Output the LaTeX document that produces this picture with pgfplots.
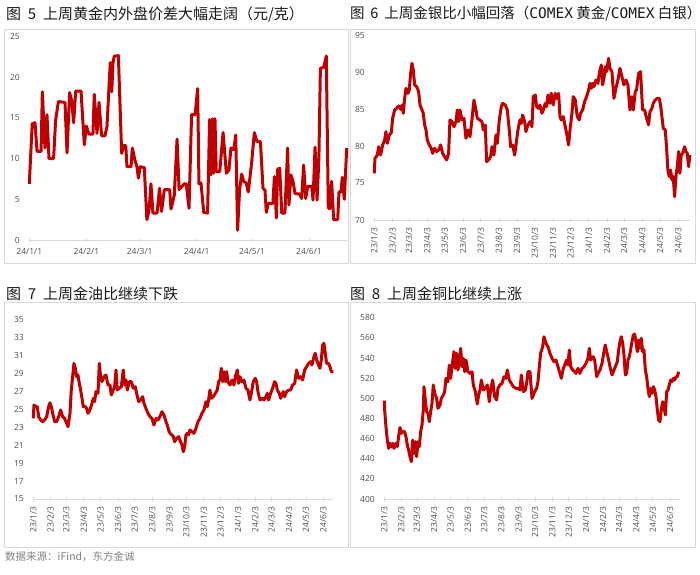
\documentclass[border=0pt]{standalone}
\usepackage{fontspec}
\setmainfont{Noto Sans CJK SC}
\newfontfamily\tickfont{Open Sans}
\newfontfamily\monofont{DejaVu Sans Mono}
\usepackage{pgfplots}
\pgfplotsset{compat=1.18}

\definecolor{linered}{RGB}{192,0,0}
\definecolor{framegray}{RGB}{217,217,217}
\definecolor{ticktext}{RGB}{80,80,80}
\definecolor{srcgray}{RGB}{128,128,128}
\definecolor{titletext}{RGB}{25,25,25}

\pgfplotsset{
  panel/.style={
    scale only axis,
    anchor=south west,
    axis x line*=bottom,
    axis y line*=left,
    x axis line style={-,draw=framegray,line width=1pt},
    y axis line style={draw=none},
    xtick style={draw=framegray,line width=0.8pt},
    major tick length=4pt,
    tick align=center,
    ytick style={draw=none},
    ticklabel style={font=\tickfont\fontsize{8.5}{10}\selectfont,text=ticktext},
    yticklabel style={xshift=-4pt},
    /pgf/number format/assume math mode=true,
    clip=false,
  },
  monthly/.style={
    xtick={0,31,59,90,120,151,181,212,243,273,304,334,365,396,425,456,486,517},
    xticklabels={23/1/3,23/2/3,23/3/3,23/4/3,23/5/3,23/6/3,23/7/3,23/8/3,23/9/3,23/10/3,23/11/3,23/12/3,24/1/3,24/2/3,24/3/3,24/4/3,24/5/3,24/6/3},
    xticklabel style={rotate=90,anchor=east,xshift=-2pt},
  },
  redline/.style={linered,line width=3pt,line join=round,mark=none},
}

\begin{document}
\begin{tikzpicture}[x=1pt,y=1pt]
\path[use as bounding box] (0,0) rectangle (700,574);

% panel frames
\draw[framegray,line width=1pt] (4,544) rectangle (348,311);
\draw[framegray,line width=1pt] (350,544) rectangle (695,311);
\draw[framegray,line width=1pt] (4,271.3) rectangle (348,26.7);
\draw[framegray,line width=1pt] (350,271.3) rectangle (695,26.7);

% titles
\begin{scope}[every node/.style={anchor=west,inner sep=0pt,text=titletext,font=\fontsize{15}{17}\selectfont}]
\node at (6,560) {图\hspace{0.45em}5\hspace{0.45em}上周黄金内外盘价差大幅走阔（元/克）};
\node[font=\fontsize{14.5}{16}\selectfont] at (350,560) {图\hspace{0.4em}6\hspace{0.4em}上周金银比小幅回落（{\monofont COMEX} 黄金/{\monofont COMEX} 白银）};
\node at (6,280) {图\hspace{0.45em}7\hspace{0.45em}上周金油比继续下跌};
\node at (350,280) {图\hspace{0.45em}8\hspace{0.45em}上周金铜比继续上涨};
\end{scope}
\node[anchor=west,inner sep=0pt,text=srcgray,font=\fontsize{10.5}{12}\selectfont] at (5,17.3) {数据来源：iFind，东方金诚};

% ---- 图5: 内外盘价差 (元/克)
\begin{axis}[panel,
  at={(29.3pt,334pt)}, width=317.4pt, height=203.5pt,
  xmin=0, xmax=172.5, ymin=0, ymax=25,
  ytick={0,5,10,15,20,25},
  xtick={0,31,60,91,121,152},
  xticklabels={24/1/1,24/2/1,24/3/1,24/4/1,24/5/1,24/6/1},
  xticklabel style={yshift=-3pt},
]
\addplot[redline] coordinates {
(0,6.9) (1.6,14.3) (3.1,14.4) (4.2,10.9) (6.4,10.9) (7.1,18.2) (8.5,11.3) (9.6,15.4) (10.7,10.0) (13.2,10.0)
(14.3,14.7) (15.8,17.0) (19.4,16.9) (20.5,10.7) (21.9,18.1) (23.0,17.2) (24.1,14.4) (25.2,18.3) (28.1,18.3) (29.9,11.7)
(31.0,14.0) (32.4,13.0) (34.6,13.0) (35.3,17.9) (36.8,13.1) (37.9,16.9) (39.3,12.8) (41.1,12.8) (42.2,13.9) (44.0,21.8)
(44.8,18.2) (45.5,21.8) (46.2,22.6) (48.4,22.65) (50.2,10.65) (51.3,11.6) (52.4,11.6) (53.1,9.0) (55.3,9.0) (56.0,11.3)
(57.4,9.8) (58.5,9.0) (59.3,7.6) (60.3,9.0) (62.5,8.9) (63.9,2.5) (65.1,3.7) (66.1,6.9) (67.2,3.3) (69.4,3.3)
(70.8,6.35) (71.9,3.5) (73.4,6.2) (76.3,6.2) (77.0,3.8) (78.8,5.5) (80.3,12.4) (81.4,6.2) (84.3,6.9) (85.3,6.9)
(86.8,3.9) (88.2,15.4) (90.1,15.4) (91.5,18.6) (92.2,6.9) (93.3,7.0) (94.8,3.4) (96.9,3.3) (98.0,14.8) (98.7,8.0)
(99.5,14.9) (100.2,8.2) (100.9,14.9) (101.6,8.4) (103.5,8.4) (105.3,13.2) (107.1,8.2) (108.5,8.6) (109.6,11.3) (111.1,11.1)
(112.2,12.9) (113.2,1.2) (114.3,6.2) (115.4,8.1) (116.5,7.2) (117.9,7.0) (119.0,5.9) (120.8,9.4) (122.3,13.2) (123.7,12.1)
(125.6,12.1) (127.0,6.35) (128.1,6.1) (128.8,3.4) (129.9,4.5) (132.4,4.5) (133.2,7.8) (134.3,2.7) (135.0,8.7) (136.1,8.8)
(137.2,3.3) (138.9,3.3) (140.4,11.3) (141.1,4.3) (142.2,8.0) (143.3,7.2) (144.4,5.7) (146.9,5.65) (148.0,5.1) (149.1,9.2)
(150.2,5.1) (151.3,6.6) (153.5,6.6) (154.2,4.9) (155.3,11.4) (156.4,4.9) (157.4,10.2) (158.2,21.1) (160.0,21.2) (161.4,22.6)
(162.5,3.9) (163.6,3.9) (164.3,7.2) (165.4,2.5) (167.6,2.5) (168.3,5.9) (169.4,5.9) (170.1,7.7) (171.2,5.0) (172.5,11.3)
};
\end{axis}

% ---- 图6: 金银比
\begin{axis}[panel, monthly,
  at={(374.3pt,354pt)}, width=315.7pt, height=185pt,
  xmin=0, xmax=537, ymin=70, ymax=95,
  ytick={70,75,80,85,90,95},
]
\addplot[redline] coordinates {
(0,76.31) (1.1,78.33) (5.1,78.78) (7.4,79.91) (10.8,78.78) (14.2,80.14) (17.6,80.81) (19.8,81.94) (22.1,80.36) (25.5,81.49)
(28.9,81.80) (31.2,83.74) (34.6,84.87) (38.0,85.09) (41.4,85.41) (44.8,84.96) (47.1,85.54) (49.3,84.42) (51.6,86.44) (53.9,87.79)
(57.3,87.12) (59.5,87.57) (61.8,89.82) (64.1,91.17) (66.3,90.27) (68.6,88.25) (72.0,88.02) (75.4,87.34) (77.7,85.54) (81.1,84.87)
(83.3,84.42) (85.6,82.84) (87.9,82.16) (90.1,80.81) (93.5,80.14) (96.9,79.69) (99.2,79.01) (102.6,79.69) (106.0,79.24) (109.4,79.46)
(112.8,80.14) (116.2,79.01) (119.6,78.56) (123.0,78.11) (126.4,79.01) (128.7,83.52) (132.1,83.29) (135.5,82.61) (138.9,83.29) (141.2,84.87)
(143.4,83.29) (145.7,84.87) (149.1,83.52) (152.5,83.74) (155.9,81.04) (159.3,82.16) (162.7,81.26) (166.1,83.52) (169.5,86.22) (172.9,84.87)
(175.2,83.74) (179.7,83.52) (183.1,83.29) (185.4,82.16) (188.8,82.84) (191.0,77.88) (194.4,78.11) (197.8,78.56) (200.1,79.91) (203.5,78.78)
(206.9,81.49) (209.2,80.36) (212.6,83.52) (216.0,85.32) (218.3,85.77) (222.8,85.54) (226.2,84.87) (229.6,82.16) (231.9,79.91) (235.3,80.14)
(238.7,78.78) (242.1,80.81) (244.3,82.16) (247.7,83.52) (250.0,83.06) (252.3,84.19) (255.7,83.29) (257.9,81.94) (261.3,82.84) (264.7,83.29)
(268.1,82.61) (270.4,86.67) (273.8,86.89) (276.1,85.32) (279.5,85.09) (281.7,85.54) (285.1,84.42) (287.4,84.87) (290.8,85.77) (293.1,85.32)
(295.4,86.89) (298.8,85.77) (301.0,87.12) (304.4,85.54) (307.8,87.12) (310.1,86.44) (313.5,87.12) (315.8,83.97) (318.0,83.52) (321.4,83.97)
(324.8,82.61) (327.1,81.71) (330.5,80.14) (332.8,82.16) (336.2,84.42) (338.4,86.67) (341.8,86.22) (345.2,83.97) (348.6,83.52) (350.9,84.42)
(354.3,84.87) (357.7,85.99) (361.1,86.67) (364.5,87.57) (366.8,88.47) (369.0,87.79) (371.3,88.47) (373.6,88.02) (377.0,88.92) (380.4,88.47)
(382.7,89.82) (386.1,90.95) (388.3,88.25) (390.6,89.15) (392.9,90.72) (395.1,90.05) (398.5,91.85) (400.8,90.50) (404.2,90.05) (407.6,86.44)
(411.0,87.79) (414.4,88.92) (417.8,90.50) (421.2,89.37) (424.6,88.25) (428.0,88.92) (431.4,88.25) (434.8,84.87) (438.2,86.67) (440.5,84.87)
(443.9,87.34) (446.1,87.57) (449.5,89.82) (452.9,90.05) (456.3,84.87) (459.8,84.87) (463.2,83.74) (466.6,82.84) (468.8,84.64) (472.2,85.09)
(474.5,85.77) (477.9,86.22) (481.3,86.44) (484.7,86.44) (486.9,85.54) (489.2,83.97) (491.5,82.39) (494.9,82.16) (497.2,79.69) (499.4,76.76)
(501.7,75.86) (504.0,76.76) (506.2,75.41) (508.5,75.86) (510.8,73.15) (513.0,75.86) (515.3,77.21) (517.6,79.24) (519.8,76.31) (522.1,78.78)
(524.4,79.01) (527.8,79.91) (530.0,79.24) (532.3,79.01) (534.6,77.21) (536.8,78.78)
};
\end{axis}

% ---- 图7: 金油比
\begin{axis}[panel, monthly,
  at={(33.3pt,75pt)}, width=300.1pt, height=180pt,
  xmin=0, xmax=535, ymin=15, ymax=35,
  ytick={15,17,19,21,23,25,27,29,31,33,35},
]
\addplot[redline] coordinates {
(0,23.96) (1.2,25.44) (4.8,25.26) (7.1,25.26) (9.5,24.15) (13.1,23.78) (16.6,23.59) (20.2,23.78) (23.8,24.15) (27.3,25.26)
(29.7,25.70) (32.1,25.26) (34.5,24.52) (38.0,23.59) (41.6,23.59) (45.2,24.15) (48.7,24.89) (52.3,24.15) (55.9,23.96) (59.4,23.41)
(61.8,23.04) (65.4,24.52) (67.7,27.11) (70.1,28.59) (72.5,30.07) (74.9,29.52) (77.2,28.59) (79.6,28.78) (82.0,27.85) (84.4,27.11)
(86.8,26.19) (89.1,25.26) (91.5,25.33) (95.1,25.07) (97.4,24.52) (101.0,24.89) (104.6,25.63) (107.0,26.19) (109.3,25.81) (111.7,26.93)
(115.3,26.74) (117.7,30.07) (120.0,28.59) (122.4,28.04) (126.0,28.59) (129.5,28.78) (133.1,27.67) (136.7,27.67) (139.0,26.56) (141.4,26.93)
(145.0,27.48) (147.4,29.33) (149.7,27.11) (153.3,27.30) (156.9,27.48) (160.4,29.33) (162.8,27.67) (165.2,28.22) (167.6,27.11) (171.1,28.04)
(174.7,28.04) (178.3,27.30) (181.8,27.48) (184.2,26.74) (187.8,25.81) (191.3,26.00) (194.9,26.37) (197.3,25.63) (200.8,25.07) (204.4,24.52)
(208.0,24.15) (211.5,23.96) (215.1,23.22) (218.7,23.96) (222.2,23.78) (225.8,24.15) (229.4,24.70) (232.9,24.33) (236.5,23.59) (238.9,23.22)
(241.2,22.67) (243.6,22.30) (247.2,22.11) (249.6,21.93) (251.9,21.37) (255.5,21.74) (259.1,21.93) (262.6,21.37) (265.0,21.00) (267.4,20.26)
(269.8,20.81) (272.1,22.11) (274.5,22.30) (276.9,22.11) (279.3,22.67) (282.8,22.48) (286.4,22.30) (290.0,22.85) (293.5,23.59) (297.1,23.96)
(300.7,24.52) (304.2,24.89) (307.8,25.81) (310.2,25.26) (312.5,26.00) (314.9,27.11) (317.3,26.19) (320.9,26.37) (324.4,26.74) (328.0,27.11)
(330.4,28.04) (332.8,28.22) (335.1,29.52) (337.5,28.04) (339.9,29.15) (342.3,28.04) (344.6,29.15) (347.0,28.04) (350.6,27.67) (354.1,28.22)
(357.7,27.67) (360.1,28.59) (363.6,29.33) (366.0,27.85) (368.4,28.59) (372.0,28.04) (375.5,28.22) (379.1,27.30) (382.7,27.11) (386.2,26.00)
(388.6,26.74) (392.2,28.04) (395.7,28.41) (398.1,28.04) (400.5,26.93) (404.1,26.00) (407.6,26.19) (411.2,26.00) (414.8,26.37) (417.1,26.74)
(419.5,26.00) (423.1,26.74) (426.6,27.30) (430.2,28.04) (432.6,27.85) (435.0,27.11) (438.5,26.74) (440.9,26.19) (443.3,26.56) (445.7,26.93)
(448.0,26.37) (451.6,26.93) (455.2,27.11) (458.7,27.11) (462.3,27.67) (465.9,27.85) (469.4,29.33) (473.0,28.41) (476.6,28.59) (480.1,28.22)
(483.7,29.33) (487.2,29.70) (490.8,30.07) (494.4,30.26) (496.7,29.89) (500.3,30.81) (502.7,31.19) (505.1,30.44) (508.6,29.89) (511.0,29.52)
(513.4,30.44) (515.8,32.11) (518.1,32.30) (520.5,31.19) (522.9,30.07) (526.5,30.07) (528.8,29.70) (531.2,29.15) (534.8,29.15)
};
\end{axis}

% ---- 图8: 金铜比
\begin{axis}[panel, monthly,
  at={(384.3pt,75pt)}, width=294.5pt, height=181.3pt,
  xmin=0, xmax=533, ymin=400, ymax=580,
  ytick={400,420,440,460,480,500,520,540,560,580},
]
\addplot[redline] coordinates {
(0,497.6) (0.6,488.4) (3.0,471.8) (5.4,458.6) (7.8,450.3) (10.3,455.3) (12.7,452.0) (15.1,455.3) (17.5,450.3) (21.1,455.3)
(23.5,452.0) (25.9,461.9) (28.4,471.1) (30.8,465.2) (33.2,466.8) (36.8,466.8) (39.2,461.9) (41.6,453.6) (44.0,448.6) (46.5,442.0)
(48.9,437.1) (51.3,458.6) (53.7,445.3) (56.1,456.9) (58.5,442.0) (60.9,456.9) (63.3,452.0) (65.8,466.8) (68.2,473.5) (70.6,488.4)
(71.8,511.5) (74.2,498.3) (76.6,486.7) (79.0,485.0) (81.4,476.8) (83.9,486.7) (86.3,495.0) (88.7,513.2) (91.1,504.9) (94.7,499.9)
(97.1,490.0) (100.7,493.3) (103.2,499.9) (106.8,503.2) (109.2,506.6) (111.6,519.8) (115.2,516.5) (117.6,533.0) (120.1,519.8) (122.5,531.4)
(126.1,546.3) (128.5,529.7) (130.9,544.6) (133.3,528.1) (135.7,536.3) (138.2,549.6) (140.6,531.4) (143.0,539.6) (145.4,526.4) (147.8,538.0)
(151.4,526.4) (155.0,524.7) (158.7,526.4) (161.1,513.2) (164.7,506.6) (168.3,494.3) (170.7,503.2) (173.1,508.2) (175.6,518.1) (179.2,508.2)
(182.8,509.9) (186.4,513.2) (190.0,496.6) (192.5,508.2) (196.1,518.1) (199.7,501.6) (203.3,498.3) (205.7,509.9) (209.3,513.2) (213.0,514.8)
(216.6,521.4) (220.2,519.8) (222.6,528.1) (226.2,518.1) (229.9,514.8) (233.5,511.5) (238.3,509.9) (241.9,509.9) (245.5,508.2) (248.0,523.1)
(251.6,506.6) (255.2,508.2) (257.6,514.8) (260.0,526.4) (263.6,526.4) (267.3,499.9) (269.7,503.2) (272.1,506.6) (275.7,509.9) (278.1,516.5)
(280.5,531.4) (282.9,544.6) (286.6,551.2) (289.0,561.1) (292.6,554.5) (296.2,551.2) (299.8,544.6) (303.5,539.6) (307.1,536.3) (310.7,538.0)
(314.3,531.4) (317.9,524.7) (320.4,519.8) (324.0,529.7) (326.4,533.0) (330.0,538.0) (332.4,533.0) (334.8,547.9) (337.3,531.4) (340.9,528.1)
(344.5,526.4) (346.9,524.7) (350.5,529.7) (354.1,524.7) (357.8,529.7) (361.4,531.4) (365.0,534.7) (368.6,539.6) (371.0,549.6) (373.4,538.0)
(375.9,539.6) (378.3,541.3) (380.7,538.0) (384.3,521.4) (386.7,524.7) (390.3,528.1) (394.0,534.7) (397.6,546.3) (400.0,552.9) (402.4,546.3)
(404.8,541.3) (408.4,531.4) (412.1,523.1) (414.5,526.4) (418.1,531.4) (421.7,536.3) (424.1,547.9) (426.5,556.2) (428.9,561.1) (431.4,554.5)
(433.8,543.0) (436.2,523.1) (438.6,524.7) (441.0,538.0) (443.4,541.3) (445.8,547.9) (448.3,556.2) (450.7,562.8) (453.1,563.8) (455.5,556.2)
(457.9,546.3) (460.3,557.8) (462.7,549.6) (465.1,559.5) (467.6,546.3) (470.0,547.9) (472.4,528.1) (474.8,521.4) (477.2,509.9) (479.6,501.6)
(482.0,509.9) (484.5,504.9) (486.9,511.5) (489.3,508.2) (491.7,501.6) (494.1,488.4) (496.5,478.4) (498.9,476.8) (501.3,488.4) (503.8,496.6)
(506.2,491.7) (508.6,483.4) (511.0,506.6) (513.4,508.2) (515.8,513.2) (518.2,518.1) (520.6,516.5) (523.1,519.8) (525.5,518.1) (527.9,521.4)
(530.3,521.4) (532.7,526.4)
};
\end{axis}
\end{tikzpicture}
\end{document}
